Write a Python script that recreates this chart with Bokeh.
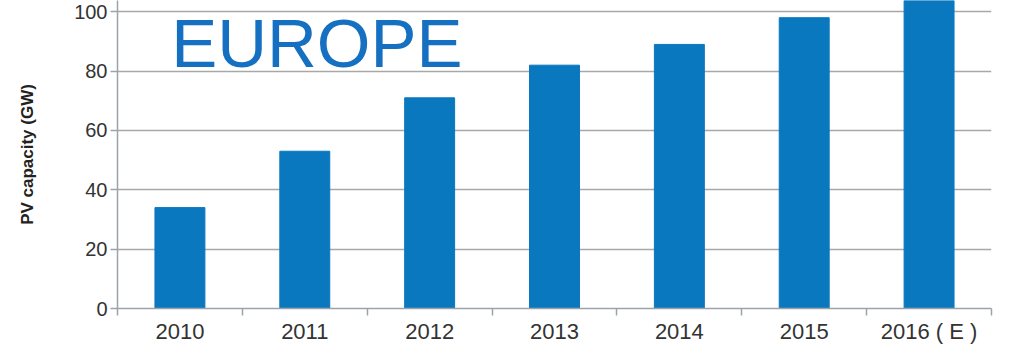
from bokeh.plotting import figure
from bokeh.models import Range1d, FixedTicker, Label
from bokeh.embed import file_html
from bokeh.resources import INLINE

years = ["2010", "2011", "2012", "2013", "2014", "2015", "2016 ( E )"]
capacity_gw = [34, 53, 71, 82, 89, 98, 105]
y_ticks = [0, 20, 40, 60, 80, 100]

n = len(years)
centers = [i + 0.5 for i in range(n)]

p = figure(width=1000, height=346, output_backend="svg", toolbar_location=None,
           x_range=Range1d(0, n), y_range=Range1d(0, 103.8),
           min_border_left=117, min_border_right=9, min_border_top=0, min_border_bottom=0)
p.outline_line_color = None
p.background_fill_color = "white"
p.border_fill_color = "white"

p.vbar(x=centers, top=capacity_gw, width=0.4, bottom=0,
       fill_color="#0a78be", line_color="#0a78be")

# x axis: labels at centers, tick marks at category boundaries
p.xaxis.ticker = FixedTicker(ticks=centers, minor_ticks=list(range(n + 1)))
p.xaxis.major_label_overrides = {c: y for c, y in zip(centers, years)}
p.xaxis.major_tick_line_color = None
p.xaxis.major_tick_out = 0
p.xaxis.major_tick_in = 0
p.xaxis.minor_tick_line_color = "#9aa3ad"
p.xaxis.minor_tick_line_width = 1.5
p.xaxis.minor_tick_out = 7
p.xaxis.minor_tick_in = 0
p.xaxis.axis_line_color = "#9aa3ad"
p.xaxis.axis_line_width = 1.5
p.xaxis.major_label_text_font = "Liberation Sans"
p.xaxis.major_label_text_font_size = "22px"
p.xaxis.major_label_text_color = "#333333"
p.xaxis.major_label_standoff = 3

# y axis
p.yaxis.ticker = FixedTicker(ticks=y_ticks)
p.yaxis.minor_tick_line_color = None
p.yaxis.major_tick_line_color = "#9aa3ad"
p.yaxis.major_tick_line_width = 1.5
p.yaxis.major_tick_out = 7
p.yaxis.major_tick_in = 0
p.yaxis.axis_line_color = "#9aa3ad"
p.yaxis.axis_line_width = 1.5
p.yaxis.major_label_text_font = "Liberation Sans"
p.yaxis.major_label_text_font_size = "20px"
p.yaxis.major_label_text_color = "#333333"
p.yaxis.major_label_standoff = 3
p.yaxis.axis_label = "PV capacity (GW)"
p.yaxis.axis_label_text_font = "Liberation Sans"
p.yaxis.axis_label_text_font_style = "bold"
p.yaxis.axis_label_text_font_size = "17px"
p.yaxis.axis_label_text_color = "#222222"
p.yaxis.axis_label_standoff = 34

p.xgrid.grid_line_color = None
p.ygrid.ticker = FixedTicker(ticks=y_ticks)
p.ygrid.grid_line_color = "#a8a8a8"
p.ygrid.grid_line_width = 1.5

p.add_layout(Label(x=0.43, y=102.2, text="EUROPE", text_font="Liberation Sans",
                   text_font_size="69px", text_color="#1570c2",
                   text_baseline="top"))

open("out.html", "w").write(file_html(p, INLINE))
